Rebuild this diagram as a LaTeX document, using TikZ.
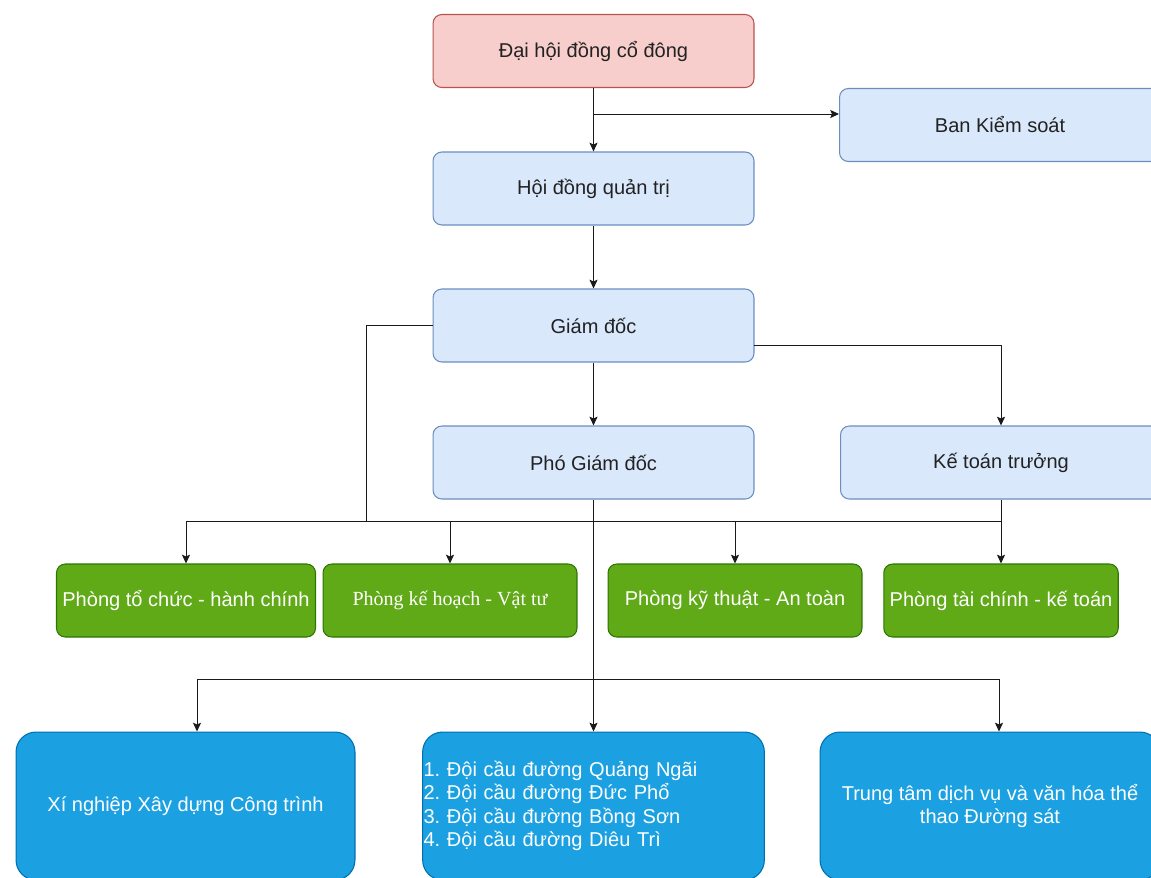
\documentclass[tikz,border=0pt]{standalone}
\usepackage{fontspec}
\setmainfont{Liberation Sans}
\newfontfamily\serifface{Liberation Serif}
\usetikzlibrary{arrows.meta}
\usetikzlibrary{positioning}
\frenchspacing
\definecolor{pinkfill}{HTML}{F8CECC}
\definecolor{pinkline}{HTML}{B85450}
\definecolor{unitfill}{HTML}{DAE8FC}
\definecolor{unitline}{HTML}{6C8EBF}
\definecolor{deptfill}{HTML}{60A917}
\definecolor{deptline}{HTML}{2D7600}
\definecolor{teamfill}{HTML}{1BA1E2}
\definecolor{teamline}{HTML}{006EAF}
\definecolor{textgray}{HTML}{222222}
\definecolor{linegray}{HTML}{1A1A1A}
\tikzset{every node/.style={font=\fontsize{11.4}{13.3}\selectfont},
         box/.style={draw,rounded corners=5pt,minimum width=6.42cm,minimum height=1.46cm,line width=0.6pt},
         topbox/.style={box,fill=pinkfill,draw=pinkline,text=textgray},
         unitbox/.style={box,fill=unitfill,draw=unitline,text=textgray},
         deptbox/.style={box,fill=deptfill,draw=deptline,text=white,minimum width=5.08cm},
         teambox/.style={box,fill=teamfill,draw=teamline,text=white,rounded corners=0.4cm,minimum height=2.96cm},
         link/.style={draw=linegray,line width=0.55pt},
         tolink/.style={link,-{Stealth[length=5pt,width=4.6pt,inset=1pt]}},
         }

\begin{document}
\begin{tikzpicture}[x=0.02cm, y=-0.02cm]
\useasboundingbox (0,0) rectangle (1151,877);
\clip (0,0) rectangle (1151,877);
% upper levels
\node[topbox] (dhcd) at (593.5,51) {Đại hội đồng cổ đông};
\node[unitbox] (bks) at (1000,125) {Ban Kiểm soát};
\node[unitbox] (hdqt) at (593.5,188.5) {Hội đồng quản trị};
\node[unitbox] (gd) at (593.5,325.5) {Giám đốc};
\node[unitbox] (pgd) at (593.5,462.5) {Phó Giám đốc};
\node[unitbox] (ktt) at (1001,462.5) {Kế toán trưởng};
% departments
\node[deptbox] (ptc) at (186,600.5) {Phòng tổ chức - hành chính};
\node[deptbox] (pkh) at (450,600.5) {\serifface Phòng kế hoạch - Vật tư};
\node[deptbox] (pkt) at (735,600.5) {Phòng kỹ thuật - An toàn};
\node[deptbox, minimum width=4.68cm] (ptk) at (1001,600.5) {Phòng tài chính - kế toán};
% units
\node[teambox, minimum width=6.78cm] (xn) at (185.5,806) {Xí nghiệp Xây dựng Công trình};
\node[teambox, align=left, text width=6.8cm, inner xsep=0.5pt] (doi) at (593.5,806)
  {1. Đội cầu đường Quảng Ngãi\\2. Đội cầu đường Đức Phổ\\3. Đội cầu đường Bồng Sơn\\4. Đội cầu đường Diêu Trì};
\node[teambox, align=center, minimum width=6.8cm] (ttdv) at (990,806) {Trung tâm dịch vụ và văn hóa thể\\thao Đường sát};
% junctions
\coordinate (j1) at (593.5,114);
\coordinate (j2) at (754,345);
\coordinate (bus) at (366,521);
\coordinate (b1) at (197,679);
\coordinate (b3) at (999,679);
% connectors
\draw[tolink] (dhcd) -- (hdqt);
\draw[tolink] (j1) -- (j1 -| bks.west);
\draw[tolink] (hdqt) -- (gd);
\draw[tolink] (gd) -- (pgd);
\draw[tolink] (j2) -| (ktt.north);
\draw[link] (gd.west) -| (bus);
\draw[link] (ptc.north |- bus) -- (ptk.north |- bus);
\draw[link] (ktt.south) -- (ktt.south |- bus);
\foreach \d in {ptc,pkh,pkt,ptk}
  \draw[tolink] (\d.north |- bus) -- (\d.north);
\draw[tolink] (pgd.south) -- (pgd.south |- doi.north);
\draw[link] (b1) -- (b3);
\draw[tolink] (b1) -- (b1 |- xn.north);
\draw[tolink] (b3) -- (b3 |- ttdv.north);
\end{tikzpicture}
\end{document}
